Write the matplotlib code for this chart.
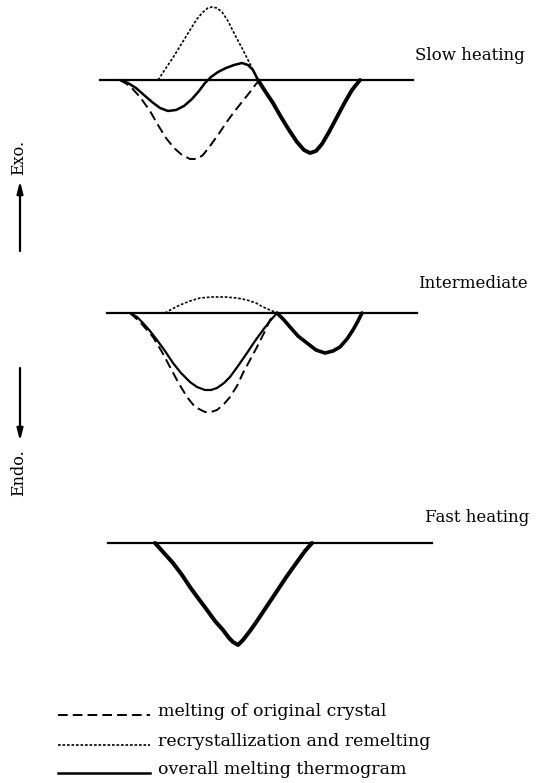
import matplotlib
matplotlib.use('Agg')
import matplotlib.pyplot as plt

plt.rcParams['font.family'] = ['DejaVu Serif']

# heat flow traces, exo up; x and y in the sketch's own units
slow_base = 80
slow_all_x = [120, 128, 136, 144, 152, 160, 168, 176, 184, 192, 199, 205, 211, 218, 226, 234, 242, 248, 253, 258,
              265, 273, 281, 289, 297, 304, 310, 316, 322, 329, 337, 345, 352, 360]
slow_all_y = [0, -3, -8, -15, -22, -28, -31, -30, -26, -19, -11, -3, 3, 8, 12, 15, 17, 15, 10, 0,
              -11, -23, -37, -50, -62, -70, -73, -71, -64, -52, -37, -22, -10, 0]
slow_orig_x = [120, 130, 140, 150, 158, 166, 174, 182, 190, 197, 203, 210, 218, 226, 234, 242, 250, 256, 260]
slow_orig_y = [0, -6, -17, -31, -45, -58, -68, -75, -79, -79, -75, -66, -55, -43, -32, -22, -12, -4, 0]
slow_recr_x = [158, 166, 174, 182, 190, 197, 203, 208, 212, 217, 222, 228, 235, 243, 250, 256, 258,
               265, 273, 281, 289, 297, 304, 310, 316, 322, 329, 337, 345, 352, 360]
slow_recr_y = [0, 12, 24, 37, 50, 61, 68, 72, 73, 72, 68, 59, 45, 30, 16, 4, 0,
               -11, -23, -37, -50, -62, -70, -73, -71, -64, -52, -37, -22, -10, 0]

mid_base = 313
mid_all_x = [130, 137, 143, 150, 157, 165, 173, 181, 190, 197, 205, 211, 217, 224, 230, 238, 247, 255, 263, 270, 277,
             284, 290, 298, 307, 316, 325, 333, 340, 347, 353, 358, 362]
mid_all_y = [0, -4, -10, -18, -27, -38, -50, -60, -69, -74, -77, -77, -75, -70, -64, -53, -40, -28, -17, -8, 0,
             -7, -14, -23, -30, -37, -40, -38, -34, -26, -17, -8, 0]
mid_orig_x = [130, 140, 153, 162, 170, 178, 187, 195, 205, 211, 217, 224, 230, 237, 243, 250, 257, 264, 270, 275]
mid_orig_y = [0, -9, -24, -39, -54, -69, -84, -94, -99, -99, -97, -91, -84, -73, -60, -47, -34, -20, -7, -1]
mid_recr_x = [165, 172, 180, 190, 200, 212, 225, 237, 247, 256, 263, 270, 277,
              284, 290, 298, 307, 316, 325, 333, 340, 347, 353, 358, 362]
mid_recr_y = [0, 4, 8, 12, 15, 16, 16, 15, 13, 10, 6, 3, 0,
              -7, -14, -23, -30, -37, -40, -38, -34, -26, -17, -8, 0]

fast_base = 543
fast_x = [155, 164, 173, 182, 190, 198, 207, 215, 223, 229, 233, 238, 243, 250, 257, 267, 277, 287, 297, 305, 312]
fast_y = [0, -10, -20, -32, -44, -55, -67, -78, -87, -95, -99, -102, -97, -88, -78, -63, -48, -33, -19, -8, 0]

titles = ['Slow heating', 'Intermediate', 'Fast heating']
legend_labels = ['melting of original crystal', 'recrystallization and remelting', 'overall melting thermogram']

DASH = (0, (5, 2.6))
DOT = (0, (1.6, 1.1))

fig = plt.figure(figsize=(5.42, 7.83), dpi=100)
ax = fig.add_axes([0, 0, 1, 1])
ax.set_xlim(0, 542)
ax.set_ylim(783, 0)
ax.axis('off')


def trace(xs, ys, base, **kw):
    ax.plot(xs, [base - v for v in ys], color='black', solid_capstyle='round',
            dash_capstyle='butt', **kw)


# slow heating
ax.plot([100, 413], [slow_base, slow_base], color='black', lw=1.6)
trace(slow_orig_x, slow_orig_y, slow_base, lw=1.4, linestyle=DASH)
trace(slow_recr_x, slow_recr_y, slow_base, lw=1.2, linestyle=DOT)
trace(slow_all_x, slow_all_y, slow_base, lw=1.8)
trace(slow_all_x[19:], slow_all_y[19:], slow_base, lw=2.8)

# intermediate
ax.plot([107, 417], [mid_base, mid_base], color='black', lw=1.6)
trace(mid_orig_x, mid_orig_y, mid_base, lw=1.4, linestyle=DASH)
trace(mid_recr_x, mid_recr_y, mid_base, lw=1.2, linestyle=DOT)
trace(mid_all_x, mid_all_y, mid_base, lw=1.6)
trace(mid_all_x[20:], mid_all_y[20:], mid_base, lw=2.6)

# fast heating: everything melts as original crystal
ax.plot([108, 432], [fast_base, fast_base], color='black', lw=1.6)
trace(fast_x, fast_y, fast_base, lw=2.9)

fs = 12
ax.text(415, 55, titles[0], fontsize=fs, va='center', ha='left')
ax.text(418, 283, titles[1], fontsize=fs, va='center', ha='left')
ax.text(425, 517, titles[2], fontsize=fs, va='center', ha='left')

# exo / endo arrows
ax.annotate('', xy=(20, 181), xytext=(20, 251),
            arrowprops=dict(arrowstyle='-|>,head_length=0.7,head_width=0.18', lw=1.6, color='black',
                            shrinkA=0, shrinkB=0))
ax.annotate('', xy=(20, 441), xytext=(20, 368),
            arrowprops=dict(arrowstyle='-|>,head_length=0.7,head_width=0.18', lw=1.6, color='black',
                            shrinkA=0, shrinkB=0))
ax.text(19, 157, 'Exo.', rotation=90, fontsize=11.5, ha='center', va='center')
ax.text(19, 473, 'Endo.', rotation=90, fontsize=11.5, ha='center', va='center')

# legend
styles = [dict(lw=1.4, linestyle=DASH), dict(lw=1.2, linestyle=DOT), dict(lw=1.8)]
rows = [715, 745, 773]
for y, lab, st in zip(rows, legend_labels, styles):
    ax.plot([58, 150], [y, y], color='black', **st)
    ax.text(158, y - 3, lab, fontsize=12.5, va='center', ha='left')

fig.savefig('out.png', dpi=100)
